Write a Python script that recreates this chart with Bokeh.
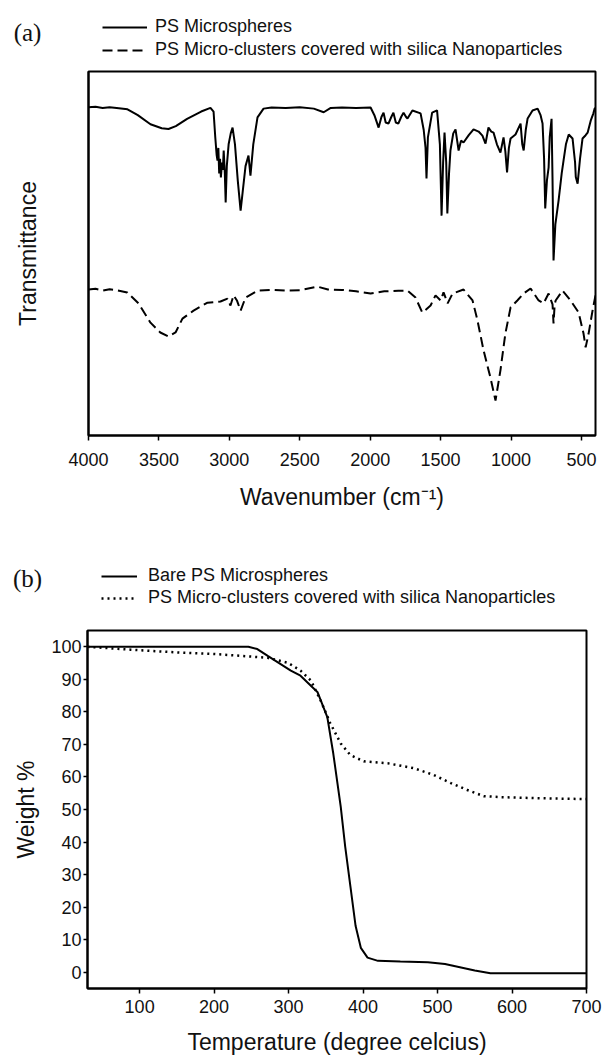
from bokeh.plotting import figure
from bokeh.models import Range1d, FixedTicker, Legend, LegendItem, Label
from bokeh.layouts import column
from bokeh.embed import file_html
from bokeh.resources import INLINE

# ---------------- (a) FTIR spectra ----------------
ps_wn = [4000, 3950, 3900, 3850, 3800, 3723, 3650, 3560, 3480, 3432, 3380, 3300, 3200, 3134,
         3112, 3100, 3090, 3084, 3078, 3072, 3066, 3060, 3052, 3046, 3040, 3032, 3026, 3018,
         3005, 2990, 2977, 2960, 2940, 2920, 2905, 2885, 2864, 2850, 2830, 2800, 2757, 2700,
         2600, 2500, 2400, 2330, 2280, 2200, 2100, 1997, 1970, 1940, 1920, 1905, 1890, 1870,
         1850, 1835, 1818, 1800, 1780, 1763, 1745, 1735, 1700, 1642, 1620, 1607, 1600, 1590,
         1560, 1525, 1505, 1493, 1482, 1472, 1460, 1452, 1440, 1430, 1410, 1394, 1372, 1355,
         1337, 1300, 1266, 1230, 1203, 1181, 1160, 1140, 1124, 1100, 1075, 1053, 1040, 1028,
         1015, 1003, 968, 932, 920, 910, 895, 882, 847, 811, 790, 776, 765, 757, 745, 733,
         725, 712, 705, 698, 685, 662, 640, 627, 610, 590, 563, 545, 540, 527, 510, 492, 470,
         456, 434, 415, 406, 400]
ps_t = [90.2, 90.3, 90.0, 90.2, 90.0, 89.6, 88.0, 85.5, 84.4, 84.2, 85.0, 87.0, 89.0, 90.0,
        89.0, 82.0, 77.0, 75.5, 79.0, 72.0, 76.0, 70.9, 75.0, 73.0, 78.3, 72.0, 64.0, 74.0,
        80.0, 83.0, 84.6, 80.0, 70.0, 61.8, 67.0, 74.0, 76.9, 71.4, 80.0, 87.4, 89.8, 90.1,
        90.0, 90.2, 89.8, 88.8, 90.0, 90.1, 90.0, 90.1, 88.0, 84.6, 87.5, 88.7, 86.0, 85.7,
        87.5, 88.7, 86.0, 85.7, 87.5, 88.7, 87.5, 87.1, 89.3, 88.5, 84.0, 79.1, 70.6, 81.9,
        88.7, 89.3, 80.0, 60.4, 75.0, 83.2, 75.0, 61.0, 72.0, 78.3, 83.0, 84.1, 78.3, 81.0,
        80.5, 82.5, 84.1, 83.5, 82.4, 80.2, 84.6, 83.5, 83.2, 80.0, 77.7, 81.9, 78.0, 72.3,
        79.0, 81.6, 82.7, 85.7, 80.0, 78.3, 84.0, 87.1, 89.3, 89.8, 88.0, 85.7, 76.0, 62.4,
        70.0, 73.6, 82.0, 87.0, 70.0, 48.1, 58.0, 64.6, 72.0, 75.5, 80.0, 82.7, 81.6, 75.0,
        71.0, 69.2, 76.0, 81.6, 82.5, 83.2, 86.5, 88.5, 89.8, 90.0]

sil_wn = [4000, 3950, 3900, 3850, 3800, 3725, 3645, 3560, 3490, 3432, 3382, 3333, 3254, 3155,
          3063, 3013, 2992, 2970, 2945, 2920, 2885, 2800, 2700, 2600, 2500, 2374, 2300, 2200,
          2100, 1997, 1900, 1800, 1735, 1678, 1630, 1607, 1571, 1536, 1500, 1479, 1450, 1415,
          1337, 1273, 1238, 1195, 1146, 1110, 1075, 1040, 1003, 955, 910, 861, 804, 769, 733,
          705, 698, 690, 683, 634, 577, 520, 485, 470, 449, 421, 400]
sil_t = [40.1, 40.3, 39.8, 40.2, 39.9, 39.3, 36.3, 31.0, 28.3, 27.2, 28.3, 32.1, 34.3, 36.5,
         36.8, 37.6, 35.7, 38.5, 37.0, 34.3, 37.9, 39.8, 40.0, 39.8, 39.9, 40.9, 40.1, 40.0,
         39.6, 39.0, 39.6, 39.8, 39.8, 37.9, 33.8, 34.5, 35.7, 38.5, 37.1, 39.3, 36.3, 39.0,
         40.1, 37.1, 31.6, 23.4, 15.9, 9.6, 17.9, 28.0, 35.2, 37.1, 39.0, 40.4, 37.1, 36.3,
         39.0, 36.0, 30.8, 36.0, 37.1, 39.8, 37.1, 33.8, 28.0, 24.2, 28.0, 34.3, 38.5]

ftir_ticks = [4000, 3500, 3000, 2500, 2000, 1500, 1000, 500]

# ---------------- (b) TGA ----------------
bare_temp = [30, 100, 200, 246, 258, 272, 303, 316, 339, 352, 360, 370, 376, 383, 390, 397,
             406, 420, 450, 487, 510, 530, 550, 571, 600, 650, 700]
bare_wt = [100, 100, 100, 100, 99.3, 97.2, 92.7, 91.1, 86.0, 78.4, 67.2, 50.9, 38.6, 26.4,
           14.2, 7.5, 4.5, 3.5, 3.3, 3.1, 2.5, 1.5, 0.5, -0.3, -0.3, -0.3, -0.3]

cov_temp = [30, 88, 155, 199, 249, 272, 299, 316, 330, 343, 356, 370, 383, 401, 433, 468,
            495, 518, 540, 562, 585, 629, 700]
cov_wt = [100, 99.1, 98.2, 97.8, 97.0, 96.6, 95.1, 92.7, 89.6, 83.5, 76.5, 70.3, 66.7, 64.8,
          64.2, 62.7, 60.6, 58.1, 56.0, 54.1, 53.8, 53.5, 53.2]

tga_x_ticks = [100, 200, 300, 400, 500, 600, 700]
tga_y_ticks = [0, 10, 20, 30, 40, 50, 60, 70, 80, 90, 100]

SANS = "Liberation Sans"
SERIF = "Liberation Serif"
INK = "#111111"
W = 602


def style(p):
    p.frame_align = False
    p.xgrid.grid_line_color = None
    p.ygrid.grid_line_color = None
    p.outline_line_color = "black"
    p.outline_line_width = 2
    p.outline_line_alpha = 1
    p.background_fill_color = "white"
    p.border_fill_color = "white"
    for ax in (p.xaxis[0], p.yaxis[0]):
        ax.axis_line_width = 2
        ax.axis_line_color = "black"
        ax.major_tick_line_width = 1.5
        ax.major_tick_line_color = "black"
        ax.major_tick_in = 0
        ax.minor_tick_line_color = None
        ax.major_label_text_font = SANS
        ax.major_label_text_font_size = "18px"
        ax.major_label_text_color = INK
        ax.axis_label_text_font = SANS
        ax.axis_label_text_font_size = "23px"
        ax.axis_label_text_font_style = "normal"
        ax.axis_label_text_color = INK


def header(height, tag, tag_vy, labels, series, styles, loc, glyph_w, standoff, spacing):
    # strip above each panel holding the panel tag and the legend
    # (its range lies far outside the data, so the series themselves stay hidden here)
    h = figure(width=W, height=height, x_range=Range1d(0, 1), y_range=Range1d(0, 1),
               x_axis_type=None, y_axis_type=None, min_border=0,
               output_backend="svg", toolbar_location=None)
    h.frame_align = False
    h.outline_line_color = None
    h.background_fill_color = "white"
    h.border_fill_color = "white"
    rends = [h.line(xs, ys, line_color="black", **st) for (xs, ys), st in zip(series, styles)]
    lg = Legend(items=[LegendItem(label=lab, renderers=[r]) for lab, r in zip(labels, rends)],
                location=loc)
    lg.border_line_color = None
    lg.background_fill_alpha = 0
    lg.padding = 0
    lg.margin = 0
    lg.spacing = spacing
    lg.glyph_width = glyph_w
    lg.glyph_height = 20
    lg.label_height = 20
    lg.label_standoff = standoff
    lg.label_text_font = SANS
    lg.label_text_font_size = "18px"
    lg.label_text_color = INK
    h.add_layout(lg)
    h.add_layout(Label(x=27, y=tag_vy, x_units="screen", y_units="screen", text=tag,
                       text_font=SERIF, text_font_size="25px", text_align="center",
                       text_baseline="middle", text_color=INK))
    return h


# ---- panel (a)
style_ps = dict(line_width=2)
style_sil = dict(line_width=2, line_dash="10 5")
hdr_a = header(69, "(a)", 37,
               ["PS Microspheres", "PS Micro-clusters covered with silica Nanoparticles"],
               [(ps_wn, ps_t), (sil_wn, sil_t)], [style_ps, style_sil],
               (102, 9), 45, 8, 2)

p1 = figure(width=W, height=464, output_backend="svg", toolbar_location=None,
            x_range=Range1d(4000, 400), y_range=Range1d(0, 100),
            min_border_left=88, min_border_right=7, min_border_top=2, min_border_bottom=98)
style(p1)
p1.xaxis[0].ticker = FixedTicker(ticks=ftir_ticks)
p1.xaxis[0].major_tick_out = 5
p1.xaxis[0].major_label_standoff = 12
p1.xaxis[0].axis_label = "Wavenumber (cm\u207b\u00b9)"
p1.xaxis[0].axis_label_standoff = 15
p1.yaxis[0].ticker = FixedTicker(ticks=[])
p1.yaxis[0].major_tick_out = 0
p1.yaxis[0].axis_label = "Transmittance"
p1.yaxis[0].axis_label_standoff = 48

p1.line(ps_wn, ps_t, line_color="black", **style_ps)
p1.line(sil_wn, sil_t, line_color="black", **style_sil)

# ---- panel (b)
style_bare = dict(line_width=2)
style_cov = dict(line_width=2.5, line_dash="2 4")
hdr_b = header(95, "(b)", 50,
               ["Bare PS Microspheres", "PS Micro-clusters covered with silica Nanoparticles"],
               [(bare_temp, bare_wt), (cov_temp, cov_wt)], [style_bare, style_cov],
               (101, 20), 36, 11, 1)

p2 = figure(width=W, height=429, output_backend="svg", toolbar_location=None,
            x_range=Range1d(30, 700), y_range=Range1d(-5, 105),
            min_border_left=87, min_border_right=16, min_border_top=2, min_border_bottom=69)
style(p2)
p2.xaxis[0].ticker = FixedTicker(ticks=tga_x_ticks)
p2.xaxis[0].major_tick_out = 5
p2.xaxis[0].major_label_standoff = 6
p2.xaxis[0].axis_label = "Temperature (degree celcius)"
p2.xaxis[0].axis_label_standoff = 13
p2.yaxis[0].ticker = FixedTicker(ticks=tga_y_ticks)
p2.yaxis[0].major_tick_out = 4
p2.yaxis[0].major_label_standoff = 2
p2.yaxis[0].axis_label = "Weight %"
p2.yaxis[0].axis_label_standoff = 9

p2.line(bare_temp, bare_wt, line_color="black", **style_bare)
p2.line(cov_temp, cov_wt, line_color="black", **style_cov)

layout = column(hdr_a, p1, hdr_b, p2, spacing=0)
open("out.html", "w").write(file_html(layout, INLINE))
